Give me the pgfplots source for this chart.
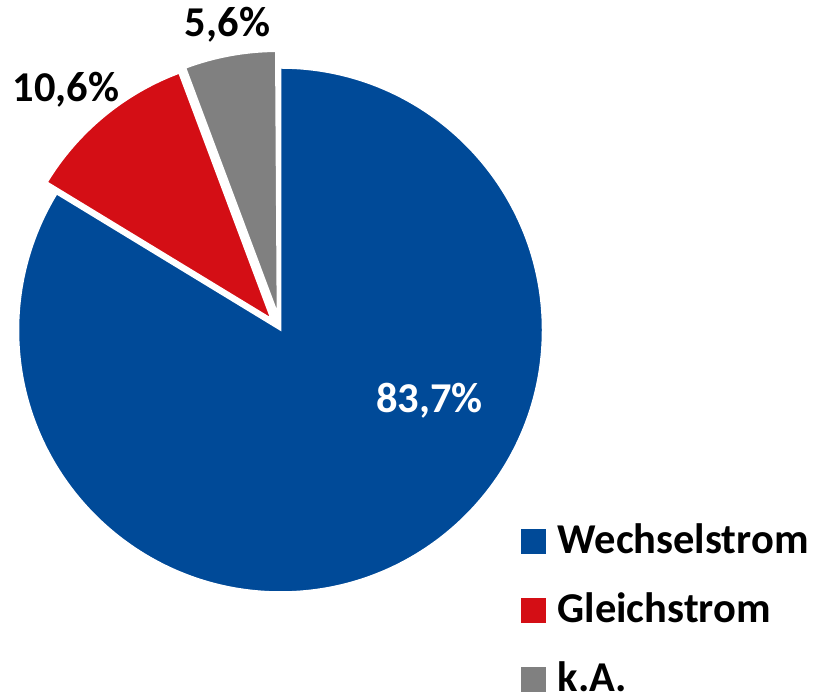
\documentclass[border=0pt]{standalone}
\usepackage{fontspec}
\setmainfont{Carlito}
\usepackage{pgfplots}
\usepackage{pgfplotstable}
\pgfplotsset{compat=1.18}

\definecolor{wblue}{RGB}{0,74,152}
\definecolor{wred}{RGB}{212,14,21}
\definecolor{wgray}{RGB}{128,128,128}

% share in percent, explosion of the slice (px)
\pgfplotstableread{
label        value explode
Wechselstrom 83.7  0
Gleichstrom  10.6  15
kA           5.6   17
}\piedata

\begin{document}
\begin{tikzpicture}
\pgfplotstablegetelem{0}{value}\of\piedata \let\vA\pgfplotsretval
\pgfplotstablegetelem{1}{value}\of\piedata \let\vB\pgfplotsretval
\pgfplotstablegetelem{2}{value}\of\piedata \let\vC\pgfplotsretval
\pgfplotstablegetelem{1}{explode}\of\piedata \let\eB\pgfplotsretval
\pgfplotstablegetelem{2}{explode}\of\piedata \let\eC\pgfplotsretval
% angles, clockwise from 12 o'clock
\pgfmathsetmacro\aA{90}
\pgfmathsetmacro\aB{\aA-3.6*\vA}
\pgfmathsetmacro\aC{\aB-3.6*\vB}
\pgfmathsetmacro\aD{\aC-3.6*\vC}
\pgfmathsetmacro\mB{(\aB+\aC)/2}
\pgfmathsetmacro\mC{(\aC+\aD)/2}
\def\cx{280.5}\def\cy{365}\def\R{262}
\begin{axis}[
  width=813pt, height=695pt, scale only axis,
  xmin=0, xmax=813, ymin=0, ymax=695,
  hide axis, clip=false,
  legend style={draw=none, fill=none, at={(axis cs:521,171)}, anchor=north west,
    inner sep=0pt, row sep=40pt, font=\fontsize{42.5}{50}\selectfont\bfseries,
    nodes={inner sep=0pt, text height=29pt, text depth=0pt},
    /tikz/every odd column/.append style={column sep=12pt}},
  legend cell align=left,
  legend image code/.code={\fill[#1] (0pt,-14.5pt) rectangle (24pt,9.5pt);},
]
\path (axis cs:0,0) rectangle (axis cs:813,695);

\fill[wblue, draw=white, line width=1.5pt]
  (axis cs:\cx,\cy) -- (axis cs:{\cx+\R*cos(\aA)},{\cy+\R*sin(\aA)})
  arc[start angle=\aA, end angle=\aB, radius=\R pt] -- cycle;
\fill[wred, draw=white, line width=1.5pt]
  (axis cs:{\cx+\eB*cos(\mB)},{\cy+\eB*sin(\mB)})
  -- (axis cs:{\cx+\eB*cos(\mB)+\R*cos(\aB)},{\cy+\eB*sin(\mB)+\R*sin(\aB)})
  arc[start angle=\aB, end angle=\aC, radius=\R pt] -- cycle;
\fill[wgray, draw=white, line width=1.5pt]
  (axis cs:{\cx+\eC*cos(\mC)},{\cy+\eC*sin(\mC)})
  -- (axis cs:{\cx+\eC*cos(\mC)+\R*cos(\aC)},{\cy+\eC*sin(\mC)+\R*sin(\aC)})
  arc[start angle=\aC, end angle=\aD, radius=\R pt] -- cycle;

\node[anchor=base, inner sep=0pt, text=white, font=\fontsize{42.5}{50}\selectfont\bfseries]
  at (axis cs:429.5,282) {83,7\%};
\node[anchor=base, inner sep=0pt, font=\fontsize{42.5}{50}\selectfont\bfseries]
  at (axis cs:66,593) {10,6\%};
\node[anchor=base, inner sep=0pt, font=\fontsize{42.5}{50}\selectfont\bfseries]
  at (axis cs:227.5,658) {5,6\%};

\addlegendimage{wblue}\addlegendentry{Wechselstrom}
\addlegendimage{wred}\addlegendentry{Gleichstrom}
\addlegendimage{wgray}\addlegendentry{k.A.}
\end{axis}
\end{tikzpicture}
\end{document}
